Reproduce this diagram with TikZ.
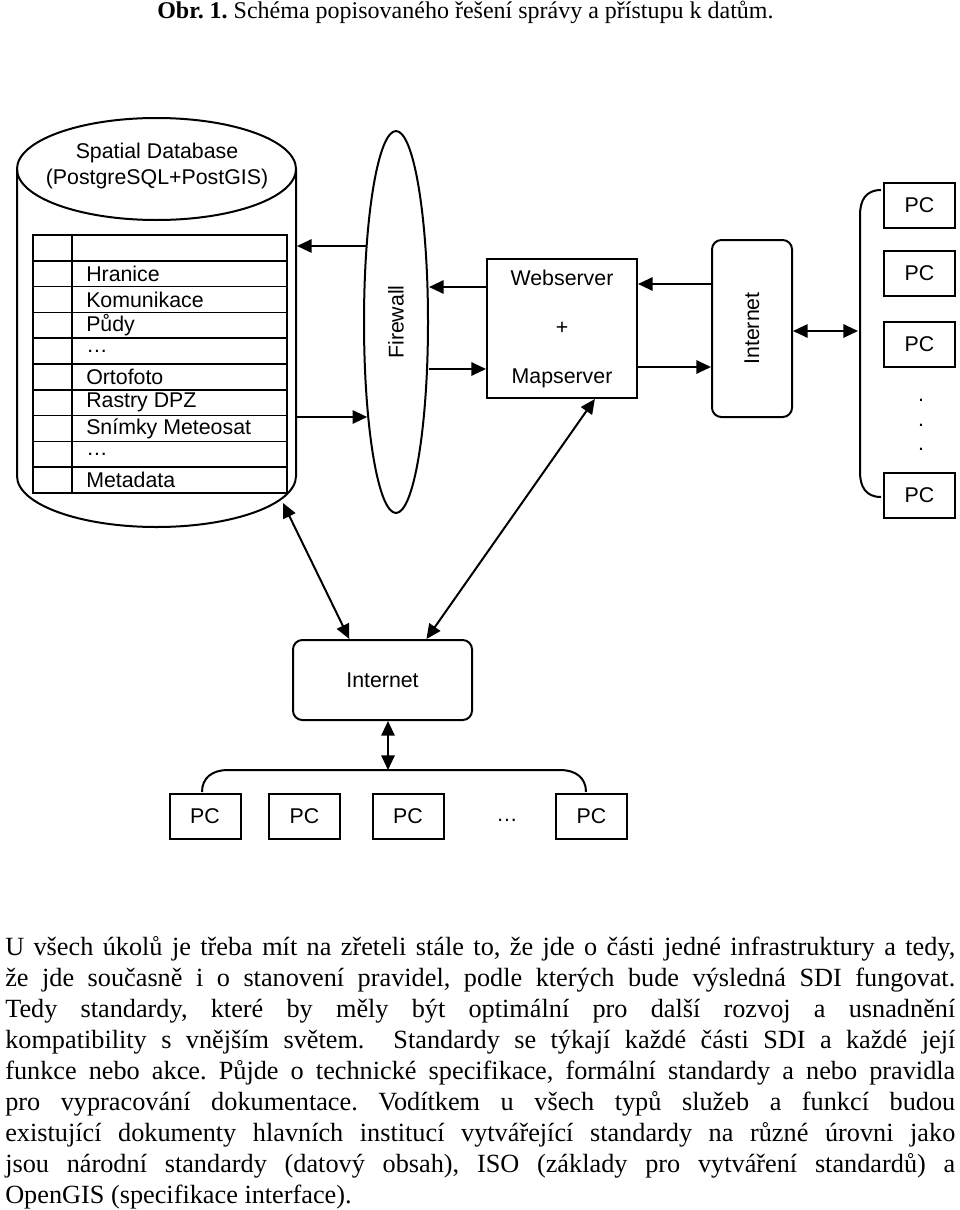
\documentclass[tikz,border=0pt]{standalone}
\usepackage{fontspec}
\setmainfont{Liberation Serif}
\setsansfont{Liberation Sans}
\usetikzlibrary{shapes.geometric, arrows.meta, calc}

\newcommand{\fullline}[1]{\makebox[712.5pt][s]{#1}}

\begin{document}
\frenchspacing
\begin{tikzpicture} [
    x=0.75pt, y=-0.75pt,
    every node/.style = {inner sep=0pt, font=\sffamily\fontsize{16}{19.5}\selectfont},
    srvbox/.style = {draw, rectangle, line width=1.5pt},
    pcbox/.style = {srvbox, minimum width=53.25pt, minimum height=33.75pt},
    netbox/.style = {srvbox, rounded corners=7pt},
    arr/.style = {line width=1.5pt, -{Triangle[length=11pt,width=10pt]}},
    darr/.style = {line width=1.5pt, {Triangle[length=11pt,width=10pt]}-{Triangle[length=11pt,width=10pt]}},
    body/.style = {anchor=base west, font=\rmfamily\fontsize{19.7}{23}\selectfont}
]
    \useasboundingbox (0,0) rectangle (960,1210);

    \node [anchor=base west, font=\rmfamily\fontsize{18}{21}\selectfont] (caption) at (157,18)
        {\textbf{Obr. 1.} Schéma popisovaného řešení správy a přístupu k datům.};

    % database
    \draw[line width=1.5pt] (156.5,169) ellipse [x radius=104.625pt, y radius=38.25pt];
    \draw[line width=1.5pt] (17,169) -- (17,476) arc[start angle=180, end angle=360, x radius=104.625pt, y radius=38.25pt] -- (296,169);
    \node [align=center] (dbtitle) at (157,166) {Spatial Database\\(PostgreSQL+PostGIS)};
    \draw[line width=1.1pt] (33,235) rectangle (287,493) (72,235) -- (72,493);
    \foreach \i in {1,...,9}
        \draw[line width=1.1pt] (33,{235+25.8*\i}) -- (287,{235+25.8*\i});
    \foreach \t [count=\i] in {Hranice, Komunikace, Půdy, …, Ortofoto, Rastry DPZ, Snímky Meteosat, …, Metadata}
        \node [anchor=west] (layer\i) at (86,{235+25.8*(\i+0.5)}) {\t};
    \coordinate (dbA) at (297,246);
    \coordinate (dbB) at (297,417);
    \coordinate (dbS) at (283,503);

    \node [draw, ellipse, line width=1.5pt, minimum width=48pt, minimum height=286.5pt,
        label={[rotate=90]center:Firewall}] (fw) at (396,322) {};
    \node [srvbox, minimum width=112.5pt, minimum height=104.25pt, align=center] (web) at (562,328.5)
        {Webserver\\[17.25pt]+\\[17.25pt]Mapserver};
    \node [netbox, minimum width=60pt, minimum height=132.75pt,
        label={[rotate=90]center:Internet}] (inetR) at (752,328.5) {};
    \node [netbox, minimum width=134.25pt, minimum height=60pt] (inetB) at (382.5,680) {Internet};

    \foreach \y [count=\i] in {205.5,273.5,344.5,495.5}
        \node [pcbox] (pcR\i) at (919.5,\y) {PC};
    \foreach \y [count=\i] in {400,425,449}
        \node (dotR\i) at (921,\y) {.};
    \foreach \x [count=\i] in {205,304.5,408,591.5}
        \node [pcbox] (pcB\i) at (\x,816.5) {PC};
    \node (dotsB) at (507,820) {…};

    % brackets
    \draw[line width=1.5pt] (881,190) .. controls (866,190) and (860,200) .. (860,215) -- (860,472)
        .. controls (860,487) and (866,497) .. (881,497);
    \draw[line width=1.5pt] (202,792) .. controls (202,778) and (212,770) .. (228,770) -- (560,770)
        .. controls (576,770) and (586,778) .. (586,792);
    \coordinate (brR) at (858,331);
    \coordinate (brB) at (388,770);

    \coordinate (lvA) at (0,287);
    \coordinate (lvB) at (0,369);
    \coordinate (lvC) at (0,284);
    \coordinate (lvD) at (0,367);
    \draw[arr] (fw.111 |- dbA) -- (dbA);
    \draw[arr] (dbB) -- (fw.253.7 |- dbB);
    \draw[arr] (web.west |- lvA) -- (fw.east |- lvA);
    \draw[arr] (fw.east |- lvB) -- (web.west |- lvB);
    \draw[arr] (inetR.west |- lvC) -- (web.east |- lvC);
    \draw[arr] (web.east |- lvD) -- (inetR.west |- lvD);
    \draw[darr] (inetR.east |- brR) -- (brR);
    \draw[darr] (dbS) -- (inetB.129);
    \draw[darr] (web.295) -- (inetB.43);
    \draw[darr] (inetB.south -| brB) -- (brB);

    \node [body] (line1) at (5,955) {\fullline{U všech úkolů je třeba mít na zřeteli stále to, že jde o části jedné infrastruktury a tedy,}};
    \node [body] (line2) at (5,986) {\fullline{že jde současně i o stanovení pravidel, podle kterých bude výsledná SDI fungovat.}};
    \node [body] (line3) at (5,1017) {\fullline{Tedy standardy, které by měly být optimální pro další rozvoj a usnadnění}};
    \node [body] (line4) at (5,1048) {\fullline{kompatibility s vnějším světem.\ \ Standardy se týkají každé části SDI a každé její}};
    \node [body] (line5) at (5,1079) {\fullline{funkce nebo akce. Půjde o technické specifikace, formální standardy a nebo pravidla}};
    \node [body] (line6) at (5,1110) {\fullline{pro vypracování dokumentace. Vodítkem u všech typů služeb a funkcí budou}};
    \node [body] (line7) at (5,1141) {\fullline{existující dokumenty hlavních institucí vytvářející standardy na různé úrovni jako}};
    \node [body] (line8) at (5,1172) {\fullline{jsou národní standardy (datový obsah), ISO (základy pro vytváření standardů) a}};
    \node [body] (line9) at (5,1203) {OpenGIS (specifikace interface).};
\end{tikzpicture}
\end{document}
